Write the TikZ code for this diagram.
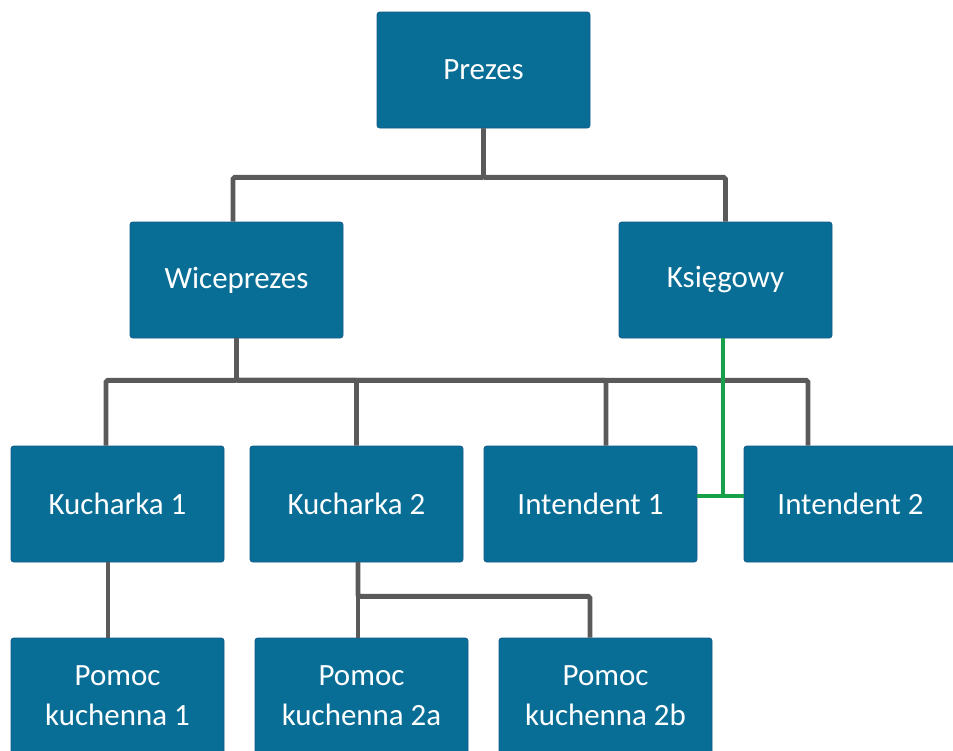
\documentclass[tikz,border=0pt]{standalone}
\usepackage{fontspec}
\setmainfont{Carlito}
\usetikzlibrary{positioning}

\definecolor{boxblue}{RGB}{9,110,150}
\definecolor{boxedge}{RGB}{20,90,140}
\definecolor{linegray}{RGB}{90,90,90}
\definecolor{linegreen}{RGB}{22,160,74}

\begin{document}
\begin{tikzpicture}[
  font=\fontsize{17.6}{22.8}\selectfont,
  box/.style={draw=boxedge, line width=0.4pt, fill=boxblue, text=white,
    rounded corners=1.5pt, align=center, minimum width=4.26cm, minimum height=2.32cm,
    inner sep=2pt},
  link/.style={draw=linegray, line width=2.8pt, rounded corners=1pt},
  glink/.style={draw=linegreen, line width=2.8pt}
]
\useasboundingbox (0,0) rectangle (19.06,-15);

% row 1-2: board
\node[box] (prezes) at (9.67,-1.40) {Prezes};
\node[box] (wice)   at (4.73,-5.60) {Wiceprezes};
\node[box] (ksieg)  at (14.51,-5.60) {Księgowy};
\draw[link] (prezes.south) -- ++(0,-0.98) -| ([xshift=-0.7mm]wice.north);
\draw[link] (prezes.south) -- ++(0,-0.98) -| (ksieg.north);

% row 3: kitchen and stores
\node[box] (kuch1) at (2.35,-10.08)  {Kucharka 1};
\node[box] (kuch2) at (7.13,-10.08)  {Kucharka 2};
\node[box] (int1)  at (11.81,-10.08) {Intendent 1};
\node[box] (int2)  at (17.01,-10.08) {Intendent 2};
\draw[link] (wice.south) -- ++(0,-0.84) -| ([xshift=-2.3mm]kuch1.north);
\draw[link] (wice.south) -- ++(0,-0.84) -| (kuch2.north);
\draw[link] (wice.south) -- ++(0,-0.84) -| ([xshift=3.1mm]int1.north);
\draw[link] (wice.south) -- ++(0,-0.84) -| ([xshift=-8.5mm]int2.north);

% accountant to both stock keepers
\coordinate (gmid) at ([yshift=1.6mm]int1.east);
\draw[glink] ([xshift=-0.5mm]ksieg.south) -- ([xshift=-0.5mm]ksieg.south |- gmid);
\draw[glink] (gmid) -- ([yshift=1.6mm]int2.west);

% row 4: kitchen help
\node[box] (pom1)  at (2.35,-13.92)  {Pomoc\\kuchenna 1};
\node[box] (pom2a) at (7.23,-13.92)  {Pomoc\\kuchenna 2a};
\node[box] (pom2b) at (12.11,-13.92) {Pomoc\\kuchenna 2b};
\draw[link] ([xshift=-1.9mm]kuch1.south) -- ([xshift=-1.9mm]pom1.north);
\draw[link] ([xshift=0.3mm]kuch2.south) -- ([xshift=0.3mm]kuch2.south |- pom2a.north);
\draw[link] ([xshift=0.3mm]kuch2.south) -- ++(0,-0.68) -| ([xshift=-3.1mm]pom2b.north);

\end{tikzpicture}
\end{document}
